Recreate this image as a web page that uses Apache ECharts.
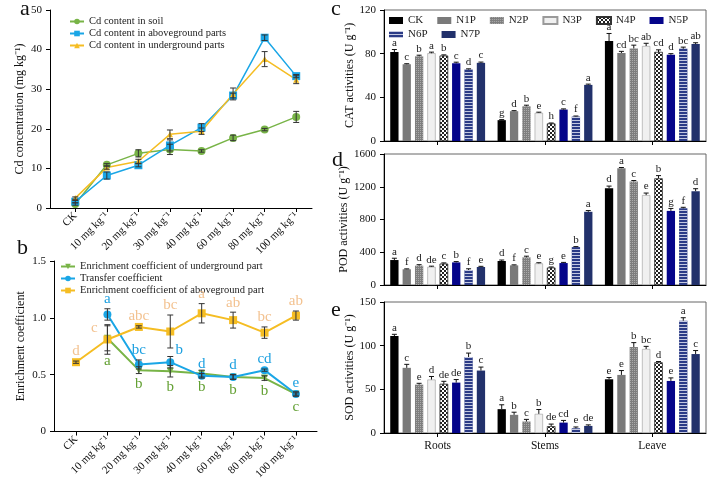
<!DOCTYPE html>
<html>
<head>
<meta charset="utf-8">
<title>Cd content, enrichment and enzyme activities</title>
<script src="https://cdn.jsdelivr.net/npm/echarts@6/dist/echarts.min.js"></script>
<style>
  html, body { margin: 0; padding: 0; background: #fff; }
  #main { width: 708px; height: 482px; }
</style>
</head>
<body>
<div id="main"></div>
<script type="text/javascript">
// ---- data ----
var doses = ['CK', '10 mg kg⁻¹', '20 mg kg⁻¹', '30 mg kg⁻¹', '40 mg kg⁻¹', '60 mg kg⁻¹', '80 mg kg⁻¹', '100 mg kg⁻¹'];

// panel a: Cd concentration (mg kg-1)
var soilCd      = [1.0, 10.9, 13.8, 14.8, 14.4, 17.7, 19.8, 23.0];
var soilCdErr   = [0.3, 0.3, 0.9, 1.3, 0.3, 0.7, 0.3, 1.4];
var aboveCd     = [1.6, 8.2, 10.8, 15.8, 20.3, 28.4, 43.0, 33.3];
var aboveCdErr  = [0.3, 0.9, 0.4, 1.4, 1.0, 0.6, 0.7, 0.4];
var underCd     = [2.5, 10.2, 11.8, 18.6, 19.4, 28.8, 37.6, 32.4];
var underCdErr  = [0.3, 0.4, 0.5, 1.1, 0.8, 1.5, 1.9, 1.0];

// panel b: coefficients
var ecUnder     = [null, 0.82, 0.54, 0.53, 0.51, 0.48, 0.47, 0.33];
var ecUnderErr  = [0, 0.11, 0.03, 0.05, 0.03, 0.02, 0.02, 0.02];
var ecUnderSig  = ['', 'a', 'b', 'b', 'b', 'b', 'b', 'c'];
var transfer    = [null, 1.03, 0.59, 0.61, 0.49, 0.48, 0.54, 0.33];
var transferErr = [0, 0.05, 0.04, 0.05, 0.02, 0.02, 0.01, 0.01];
var transferSig = ['', 'a', 'bc', 'b', 'd', 'd', 'cd', 'e'];
var ecAbove     = [0.61, 0.81, 0.92, 0.88, 1.04, 0.98, 0.87, 1.02];
var ecAboveErr  = [0.01, 0.13, 0.01, 0.145, 0.085, 0.07, 0.05, 0.04];
var ecAboveSig  = ['d', 'c', 'abc', 'bc', 'a', 'ab', 'bc', 'ab'];

// panels c-e: rows = organ, columns = treatment
var organs = ['Roots', 'Stems', 'Leave'];
var treatments = ['CK', 'N1P', 'N2P', 'N3P', 'N4P', 'N5P', 'N6P', 'N7P'];

var catVals = [[81.5, 70.3, 77.6, 80.4, 78.2, 71.2, 65.5, 71.6],
               [19.1, 27.3, 31.8, 25.8, 16.0, 28.8, 22.4, 51.4],
               [91.5, 80.6, 84.8, 87.0, 81.5, 79.0, 84.5, 88.8]];
var catErr  = [[2.3, 0.5, 1.0, 1.0, 0.7, 1.0, 0.6, 0.7],
               [0.5, 0.5, 1.0, 0.6, 0.5, 0.6, 0.5, 0.7],
               [7.0, 1.5, 3.0, 2.5, 2.0, 1.0, 1.5, 1.2]];
var catSig  = [['a', 'c', 'b', 'a', 'b', 'c', 'd', 'c'],
               ['g', 'd', 'b', 'e', 'h', 'c', 'f', 'a'],
               ['a', 'cd', 'bc', 'ab', 'cd', 'd', 'bc', 'ab']];

var podVals = [[305, 192, 236, 222, 260, 276, 183, 220],
               [293, 240, 337, 264, 212, 268, 463, 894],
               [1183, 1427, 1264, 1098, 1301, 905, 937, 1146]];
var podErr  = [[22, 5, 12, 8, 10, 10, 15, 8],
               [12, 6, 15, 8, 8, 8, 6, 15],
               [25, 8, 12, 25, 35, 30, 12, 30]];
var podSig  = [['a', 'f', 'd', 'de', 'c', 'b', 'f', 'e'],
               ['d', 'f', 'c', 'e', 'g', 'e', 'b', 'a'],
               ['d', 'a', 'c', 'e', 'b', 'g', 'f', 'd']];

var sodVals = [[111, 74.6, 55.4, 61.2, 56.2, 57.7, 87.0, 71.5],
               [27.3, 20.8, 13.1, 21.9, 7.7, 11.9, 5.4, 8.1],
               [61.5, 66.5, 98.5, 96.2, 80.8, 59.6, 128.5, 90.4]];
var sodErr  = [[2, 4, 1.5, 3.5, 3, 3.5, 4.5, 4],
               [5, 3, 2.5, 5, 2.5, 2.5, 1.5, 1.2],
               [2, 5, 5, 3, 1, 3.5, 3.5, 4]];
var sodSig  = [['a', 'c', 'e', 'd', 'de', 'de', 'b', 'c'],
               ['a', 'b', 'c', 'b', 'de', 'cd', 'e', 'de'],
               ['e', 'e', 'b', 'bc', 'd', 'e', 'a', 'c']];

// ---- styles ----
var FONT = 'Liberation Serif';
var GREEN = '#78b447', BLUE = '#1aa6e6', YELLOW = '#f5bd23';
var BAR_W = 8.3, BAR_GAP = 0.49;   // slot = BAR_W * (1 + BAR_GAP)

var barStyles = [
  { color: '#000' },
  { color: '#7a7a7a' },
  { color: '#7e7e7e', decal: { symbol: 'rect', symbolSize: 1, dashArrayX: [1, 1], dashArrayY: [1, 1], color: 'rgba(255,255,255,0.35)' } },
  { color: '#f0f0f0', borderColor: '#9a9a9a', borderWidth: 0.6 },
  { color: '#fff', borderColor: '#333', borderWidth: 0.5, decal: { symbol: 'rect', symbolSize: 1, dashArrayX: [[2, 2], [0, 2, 2, 0]], dashArrayY: [2, 0], color: '#222' } },
  { color: '#05058a' },
  { color: '#2b3b86', decal: { symbol: 'rect', symbolSize: 1, dashArrayX: [1, 0], dashArrayY: [1, 2], color: '#c5c9e0' } },
  { color: '#22316b' }
];

// hand placement of a few letters in panel b (dx, dy from the point)
var nudgeAbove = { 1: [-13, -11] };
var nudgeTransfer = { 3: [9, -12] };

var chart = echarts.init(document.getElementById('main'));

function errBars(gi, xs, vals, errs) {
  var d = [];
  for (var i = 0; i < xs.length; i++) {
    if (vals[i] != null) d.push([xs[i], vals[i], errs[i]]);
  }
  return {
    type: 'custom', xAxisIndex: gi, yAxisIndex: gi, z: 4, silent: true,
    data: d,
    renderItem: function (params, api) {
      var x = api.value(0), v = api.value(1), e = api.value(2);
      var hi = api.coord([x, v + e]), lo = api.coord([x, v - e]);
      var s = { stroke: '#333', lineWidth: 1 };
      return { type: 'group', children: [
        { type: 'line', shape: { x1: hi[0], y1: hi[1], x2: lo[0], y2: lo[1] }, style: s },
        { type: 'line', shape: { x1: hi[0] - 3, y1: hi[1], x2: hi[0] + 3, y2: hi[1] }, style: s },
        { type: 'line', shape: { x1: lo[0] - 3, y1: lo[1], x2: lo[0] + 3, y2: lo[1] }, style: s }
      ] };
    }
  };
}

// significance letters for panel b
function sigLetters(vals, errs, sigs, color, below, nudge) {
  var d = [];
  for (var i = 0; i < vals.length; i++) {
    if (vals[i] != null) d.push([i, vals[i], errs[i]]);
  }
  return {
    type: 'custom', xAxisIndex: 1, yAxisIndex: 1, z: 5, silent: true,
    data: d,
    renderItem: function (params, api) {
      var x = api.value(0), v = api.value(1), e = api.value(2);
      var st = { text: sigs[x], fill: color, font: '15px ' + FONT, align: 'center' };
      var n = nudge && nudge[x];
      if (n) {
        var p0 = api.coord([x, v]);
        st.verticalAlign = 'middle';
        return { type: 'text', x: p0[0] + n[0], y: p0[1] + n[1], style: st };
      }
      var p = api.coord([x, below ? v - e : v + e]);
      st.verticalAlign = below ? 'top' : 'bottom';
      return { type: 'text', x: p[0], y: below ? p[1] + 3 : p[1] - 2, style: st };
    }
  };
}

function barPanel(gi, vals) {
  return treatments.map(function (t, k) {
    return {
      name: t, type: 'bar', xAxisIndex: gi, yAxisIndex: gi,
      barWidth: BAR_W, barGap: (BAR_GAP * 100) + '%',
      data: vals.map(function (row) { return row[k]; }),
      itemStyle: barStyles[k]
    };
  });
}

function barErr(gi, vals, errs, sigs) {
  var d = [];
  vals.forEach(function (row, c) {
    row.forEach(function (v, t) { d.push([c, t, v, errs[c][t]]); });
  });
  return {
    type: 'custom', xAxisIndex: gi, yAxisIndex: gi, z: 5, silent: true,
    encode: { x: 0, y: 2 },
    data: d,
    renderItem: function (params, api) {
      var c = api.value(0), t = api.value(1), v = api.value(2), e = api.value(3);
      var slot = BAR_W * (1 + BAR_GAP);
      var cx = api.coord([c, 0])[0] + (t - 3.5) * slot;
      var yb = api.coord([c, v])[1], yt = api.coord([c, v + e])[1];
      var s = { stroke: '#111', lineWidth: 1 };
      return { type: 'group', children: [
        { type: 'line', shape: { x1: cx, y1: yb, x2: cx, y2: yt }, style: s },
        { type: 'line', shape: { x1: cx - 2.5, y1: yt, x2: cx + 2.5, y2: yt }, style: s },
        { type: 'text', x: cx, y: yt - 1,
          style: { text: sigs[c][t], fill: '#222', font: '11px ' + FONT, align: 'center', verticalAlign: 'bottom' } }
      ] };
    }
  };
}

var axisLineStyle = { show: true, onZero: false, lineStyle: { color: '#000', width: 1 } };
var tickStyle = { show: true, length: 4, lineStyle: { color: '#000' } };
var labelStyle = { color: '#111', fontFamily: FONT, fontSize: 11, formatter: function (v) { return String(v); } };
var nameStyle = { color: '#111', fontFamily: FONT, fontSize: 12 };
var idx = [0, 1, 2, 3, 4, 5, 6, 7];

function doseAxis(gi, min, max) {
  return {
    gridIndex: gi, type: 'value', min: min, max: max,
    splitLine: { show: false }, axisLine: axisLineStyle,
    axisTick: { show: true, length: 4, customValues: idx, lineStyle: { color: '#000' } },
    axisLabel: { customValues: idx, rotate: 45, margin: 6, color: '#111', fontFamily: FONT, fontSize: 11,
      formatter: function (v) { return doses[Math.round(v)]; } }
  };
}

function organAxis(gi, showLabel) {
  return {
    gridIndex: gi, type: 'category', data: organs,
    axisLine: axisLineStyle,
    axisTick: { show: true, length: 4, alignWithLabel: true, lineStyle: { color: '#000' } },
    axisLabel: { show: showLabel, margin: 7, color: '#111', fontFamily: FONT, fontSize: 11.5 }
  };
}

function valAxis(gi, max, interval, name, gap) {
  return {
    gridIndex: gi, type: 'value', min: 0, max: max, interval: interval,
    name: name, nameLocation: 'middle', nameGap: gap, nameTextStyle: nameStyle,
    splitLine: { show: false }, axisLine: axisLineStyle, axisTick: tickStyle,
    axisLabel: labelStyle
  };
}

var legendText = { color: '#222', fontFamily: FONT, fontSize: 10.5 };

var option = {
  backgroundColor: '#fff',
  animation: false,
  textStyle: { fontFamily: FONT },
  grid: [
    { left: 50, top: 10, width: 262, height: 198 },
    { left: 54, top: 261, width: 263, height: 175 },
    { left: 384, top: 10, width: 322, height: 131, show: true, borderColor: '#666', borderWidth: 1 },
    { left: 384, top: 154, width: 322, height: 131, show: true, borderColor: '#666', borderWidth: 1 },
    { left: 384, top: 302, width: 322, height: 131, show: true, borderColor: '#666', borderWidth: 1 }
  ],
  xAxis: [
    doseAxis(0, -0.8, 7.5),
    doseAxis(1, -0.7, 7.67),
    organAxis(2, false),
    organAxis(3, false),
    organAxis(4, true)
  ],
  yAxis: [
    valAxis(0, 50, 10, 'Cd concentration (mg kg⁻¹)', 24),
    Object.assign(valAxis(1, 1.5, 0.5, 'Enrichment coefficient', 27), {
      axisLabel: Object.assign({}, labelStyle, { formatter: function (v) { return v === 0 ? '0' : v.toFixed(1); } })
    }),
    valAxis(2, 120, 40, 'CAT activities (U g⁻¹)', 23),
    valAxis(3, 1600, 400, 'POD activities (U g⁻¹)', 25),
    valAxis(4, 150, 50, 'SOD activities (U g⁻¹)', 23)
  ],
  legend: [
    { left: 64, top: 11, orient: 'vertical', itemGap: 1, itemWidth: 14, itemHeight: 7, textStyle: legendText,
      data: ['Cd content in soil', 'Cd content in aboveground parts', 'Cd content in underground parts'] },
    { left: 55, top: 256, orient: 'vertical', itemGap: 1, itemWidth: 14, itemHeight: 7, textStyle: legendText,
      data: ['Enrichment coefficient of underground part', 'Transfer coefficient', 'Enrichment coefficient of aboveground part'] },
    { left: 384, top: 10, itemGap: 14, itemWidth: 14, itemHeight: 7, icon: 'rect',
      textStyle: Object.assign({}, legendText, { fontSize: 11 }), data: treatments.slice(0, 6) },
    { left: 384, top: 24, itemGap: 14, itemWidth: 14, itemHeight: 7, icon: 'rect',
      textStyle: Object.assign({}, legendText, { fontSize: 11 }), data: treatments.slice(6) }
  ],
  graphic: [
    { type: 'text', left: 20, top: -2, style: { text: 'a', font: '22px ' + FONT, fill: '#111' } },
    { type: 'text', left: 17, top: 237, style: { text: 'b', font: '22px ' + FONT, fill: '#111' } },
    { type: 'text', left: 331, top: -2, style: { text: 'c', font: '22px ' + FONT, fill: '#111' } },
    { type: 'text', left: 332, top: 149, style: { text: 'd', font: '22px ' + FONT, fill: '#111' } },
    { type: 'text', left: 331, top: 299, style: { text: 'e', font: '22px ' + FONT, fill: '#111' } }
  ],
  series: [
    { name: 'Cd content in soil', type: 'line', xAxisIndex: 0, yAxisIndex: 0,
      data: soilCd.map(function (v, i) { return [i, v]; }),
      symbol: 'circle', symbolSize: 8, color: GREEN, lineStyle: { width: 1.5 } },
    { name: 'Cd content in aboveground parts', type: 'line', xAxisIndex: 0, yAxisIndex: 0,
      data: aboveCd.map(function (v, i) { return [i, v]; }),
      symbol: 'rect', symbolSize: 8, color: BLUE, lineStyle: { width: 1.5 } },
    { name: 'Cd content in underground parts', type: 'line', xAxisIndex: 0, yAxisIndex: 0,
      data: underCd.map(function (v, i) { return [i, v]; }),
      symbol: 'triangle', symbolSize: 6, color: YELLOW, lineStyle: { width: 1.5 } },
    errBars(0, idx, soilCd, soilCdErr),
    errBars(0, idx, aboveCd, aboveCdErr),
    errBars(0, idx, underCd, underCdErr),

    { name: 'Enrichment coefficient of underground part', type: 'line', xAxisIndex: 1, yAxisIndex: 1,
      data: ecUnder.map(function (v, i) { return [i, v]; }).filter(function (p) { return p[1] != null; }),
      symbol: 'triangle', symbolRotate: 180, symbolSize: 7, color: GREEN, lineStyle: { width: 2 } },
    { name: 'Transfer coefficient', type: 'line', xAxisIndex: 1, yAxisIndex: 1,
      data: transfer.map(function (v, i) { return [i, v]; }).filter(function (p) { return p[1] != null; }),
      symbol: 'circle', symbolSize: 8, color: BLUE, lineStyle: { width: 2 } },
    { name: 'Enrichment coefficient of aboveground part', type: 'line', xAxisIndex: 1, yAxisIndex: 1,
      data: ecAbove.map(function (v, i) { return [i, v]; }),
      symbol: 'rect', symbolSize: 8, color: YELLOW, lineStyle: { width: 2 } },
    errBars(1, idx, ecUnder, ecUnderErr),
    errBars(1, idx, transfer, transferErr),
    errBars(1, idx, ecAbove, ecAboveErr),
    sigLetters(ecUnder, ecUnderErr, ecUnderSig, '#63a033', true, null),
    sigLetters(transfer, transferErr, transferSig, '#1a9fe0', false, nudgeTransfer),
    sigLetters(ecAbove, ecAboveErr, ecAboveSig, '#f3c290', false, nudgeAbove)
  ]
    .concat(barPanel(2, catVals)).concat([barErr(2, catVals, catErr, catSig)])
    .concat(barPanel(3, podVals)).concat([barErr(3, podVals, podErr, podSig)])
    .concat(barPanel(4, sodVals)).concat([barErr(4, sodVals, sodErr, sodSig)])
};

chart.setOption(option);
</script>
</body>
</html>
